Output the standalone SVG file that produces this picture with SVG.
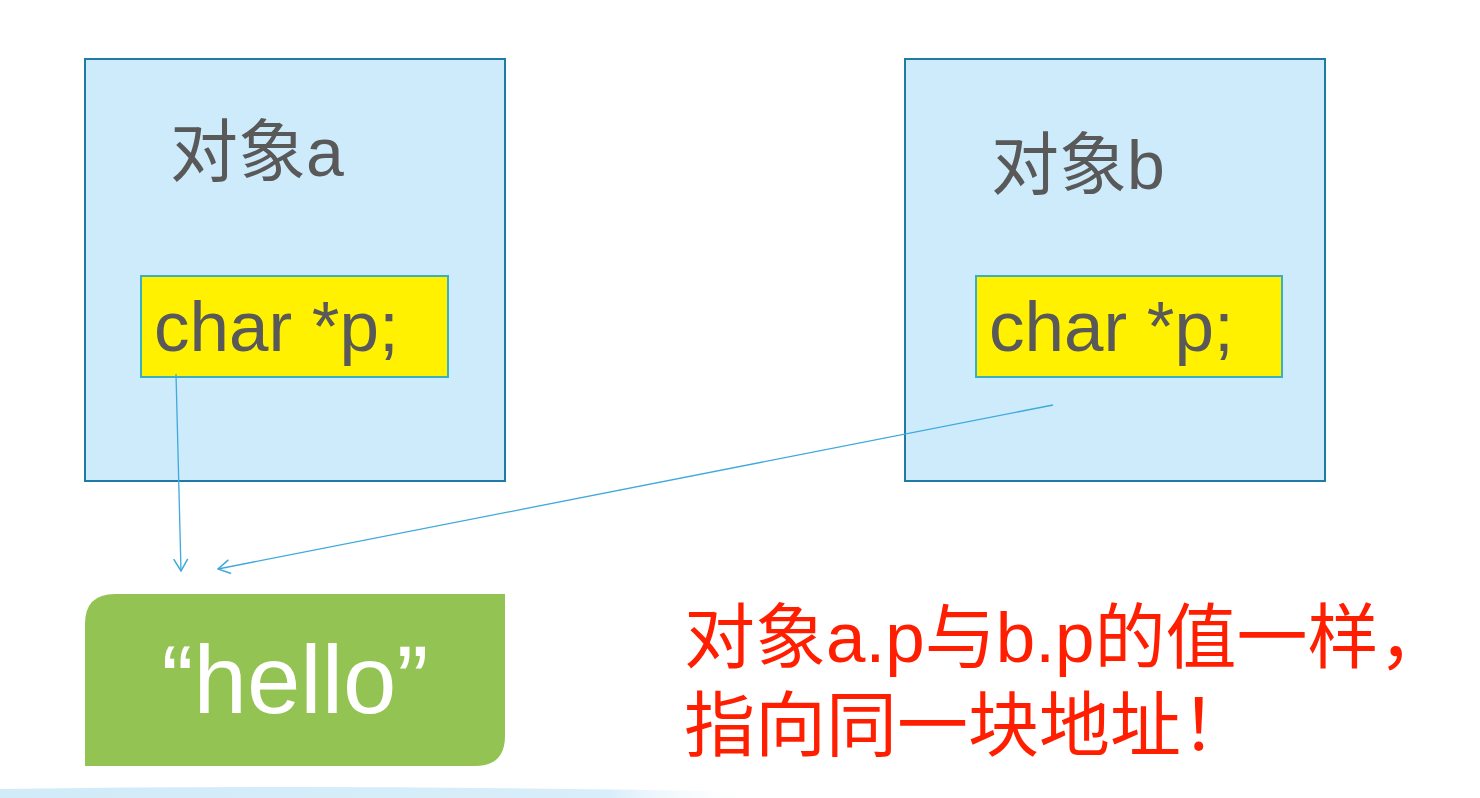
<svg xmlns="http://www.w3.org/2000/svg" width="1480" height="798" viewBox="0 0 1480 798">
  <defs>
    <style>
      .obj { fill: #CDEBFB; stroke: #1F7BA5; stroke-width: 2; }
      .field { fill: #FFF100; stroke: #3AAFC4; stroke-width: 2; }
      .title { font-family: "Liberation Sans", "Noto Sans CJK SC", sans-serif; font-size: 68px; fill: #595959; }
      .code { font-family: "Liberation Sans", "Noto Sans CJK SC", sans-serif; font-size: 71px; fill: #595959; }
      .hello { font-family: "Liberation Sans", "Noto Sans CJK SC", sans-serif; font-size: 96px; fill: #FFFFFF; }
      .note { font-family: "Liberation Sans", "Noto Sans CJK SC", sans-serif; font-size: 71px; fill: #FF1E00; }
      .conn { fill: none; stroke: #3FA9DC; stroke-width: 1.3; }
    </style>
    <marker id="arrow" viewBox="0 0 14 16" refX="13" refY="8" markerWidth="14" markerHeight="16" markerUnits="userSpaceOnUse" orient="auto">
      <path d="M1,1 L13,8 L1,15" fill="none" stroke="#3FA9DC" stroke-width="1.5"/>
    </marker>
    <linearGradient id="band" x1="0" y1="0" x2="1" y2="0">
      <stop offset="0" stop-color="#D2EBF9"/>
      <stop offset="0.8" stop-color="#D8EEFA"/>
      <stop offset="1" stop-color="#FFFFFF" stop-opacity="0"/>
    </linearGradient>
  </defs>

  <rect x="0" y="0" width="1480" height="798" fill="#FFFFFF"/>
  <path d="M0,789 Q360,784 760,792 L760,798 L0,798 Z" fill="url(#band)"/>

  <g id="object-a">
    <rect class="obj" x="85" y="59" width="420" height="422"/>
    <text class="title" x="170" y="176">对象a</text>
  </g>

  <g id="field-a">
    <rect class="field" x="141" y="276" width="307" height="101"/>
    <text class="code" x="154" y="351">char *p;</text>
  </g>

  <g id="object-b">
    <rect class="obj" x="905" y="59" width="420" height="422"/>
    <text class="title" x="991" y="189">对象b</text>
  </g>

  <g id="field-b">
    <rect class="field" x="976" y="276" width="306" height="101"/>
    <text class="code" x="989" y="351">char *p;</text>
  </g>

  <g id="hello">
    <path d="M115,594 L505,594 L505,736 Q505,766 475,766 L85,766 L85,624 Q85,594 115,594 Z" fill="#92C353"/>
    <text class="hello" x="295" y="713" text-anchor="middle">“hello”</text>
  </g>

  <g id="note">
    <text class="note" x="684" y="662">对象a.p与b.p的值一样，</text>
    <text class="note" x="684" y="750">指向同一块地址！</text>
  </g>

  <g id="connectors">
    <line class="conn" x1="176" y1="374" x2="181" y2="571" marker-end="url(#arrow)"/>
    <line class="conn" x1="1053" y1="405" x2="218" y2="569" marker-end="url(#arrow)"/>
  </g>
</svg>
